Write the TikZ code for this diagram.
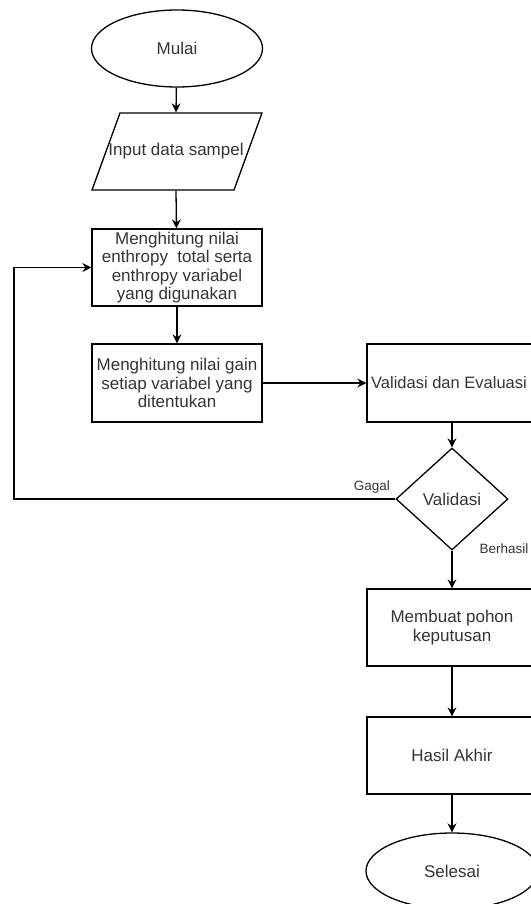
\documentclass[tikz,border=0pt]{standalone}
\usepackage{fontspec}
\setmainfont{Liberation Sans}
\usetikzlibrary{shapes.geometric,arrows.meta}
\definecolor{txt}{RGB}{52,52,52}
\tikzset{
  base/.style={draw=black, line width=1.3pt, text=txt, align=center,
    font=\fontsize{17}{18.5}\selectfont, inner sep=0pt},
  procbox/.style={base, rectangle, minimum width=170pt, minimum height=77pt},
  term/.style={base, ellipse, minimum width=171pt, minimum height=77pt},
  decide/.style={base, diamond, minimum width=112pt, minimum height=102pt},
  conn/.style={draw=black, line width=1.3pt, -{Stealth[length=9pt,width=9pt,inset=3pt]}},
  lbl/.style={text=txt, font=\fontsize{13.5}{16}\selectfont, inner sep=0pt}
}
\begin{document}
\begin{tikzpicture}[x=1pt,y=-1pt]
\useasboundingbox (0,0) rectangle (530,904);
\node[term] (mulai) at (177,48.5) {Mulai};
\node[base, draw=none, minimum width=142pt, minimum height=77pt] (input) at (176,151.5) {Input data sampel};
\draw[line width=1.3pt] (92,190) -- (120,113) -- (262,113) -- (234,190) -- cycle;
\node[procbox] (b1) at (177,267.5) {Menghitung nilai\\enthropy\ \ total serta\\enthropy variabel\\yang digunakan};
\node[procbox, minimum height=78pt] (b2) at (177,383) {Menghitung nilai gain\\setiap variabel yang\\ditentukan};
\node[procbox, minimum height=78pt, font=\fontsize{16.5}{18.5}\selectfont] (b3) at (452,383) {Validasi dan Evaluasi\hspace*{6pt}};
\node[decide] (dia) at (452,499) {Validasi};
\node[procbox] (b4) at (452,627.5) {Membuat pohon\\keputusan};
\node[procbox] (b5) at (452,755.5) {Hasil Akhir};
\node[term, minimum width=172pt, minimum height=76pt] (sel) at (452,871) {Selesai};
\coordinate (g) at (14,499);
\draw[conn] (mulai) -- (input.north);
\draw[conn] (input.south) -- (b1);
\draw[conn] (b1) -- (b2);
\draw[conn] (b2) -- (b3);
\draw[conn] (b3) -- (dia);
\draw[conn] (dia.west) -- (g) |- (b1.west);
\draw[conn] (dia.south) -- (b4);
\draw[conn] (b4) -- (b5);
\draw[conn] (b5) -- (sel);
\node[lbl, anchor=east] (gagal) at (390,487) {Gagal};
\node[lbl, anchor=west] (berhasil) at (479.5,549) {Berhasil};
\end{tikzpicture}
\end{document}
